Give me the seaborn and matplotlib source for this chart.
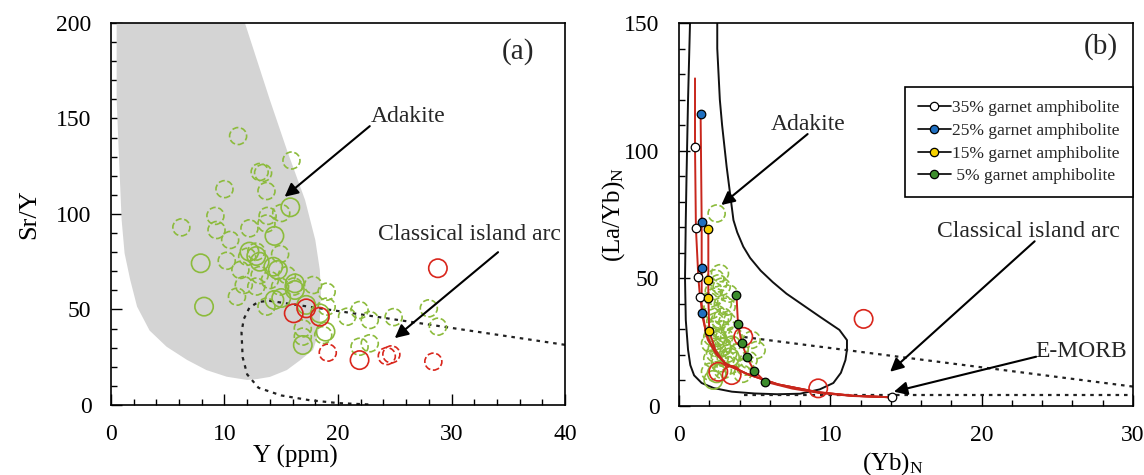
import numpy as np
import pandas as pd
import matplotlib
matplotlib.use("Agg")
import matplotlib.pyplot as plt
import seaborn as sns
from matplotlib.lines import Line2D
from matplotlib.ticker import MultipleLocator

sns.set_theme(style="white")
plt.rcParams['font.family'] = ['Liberation Serif', 'DejaVu Serif']
plt.rcParams['mathtext.fontset'] = 'custom'
plt.rcParams['mathtext.rm'] = 'Liberation Serif'
plt.rcParams['mathtext.it'] = 'Liberation Serif:italic'

# ---------------- data: panel (a) Sr/Y vs Y ----------------
adakite_a_x = [0.5, 11.8, 14.0, 15.5, 17.1, 18.0, 18.4, 18.5, 18.4, 18.2, 17.8, 16.7, 15.5,
               14.0, 12.9, 12.0, 10.2, 8.4, 6.7, 4.9, 3.4, 2.3, 1.7, 1.2, 0.94, 0.7, 0.5]
adakite_a_y = [200, 200, 159.7, 133.5, 107.3, 86.4, 70.7, 58, 44.5, 36, 28.8, 23.6, 18.3,
               14.7, 13.6, 13.1, 14.8, 18.3, 23.6, 30.5, 39, 51.5, 65.4, 79.4, 96.9, 130, 160]

arc_a_x = [40, 14.0, 13.0, 12.2, 11.7, 11.5, 11.6, 12.0, 13.0, 15.0, 17.5, 20.0, 23.0]
arc_a_y = [31.5, 54.5, 54.0, 51.0, 45.0, 38.0, 25.0, 16.0, 9.0, 5.0, 2.5, 1.0, 0.2]

a_green_dashed_x = [11.2, 15.9, 13.1, 13.4, 10.0, 13.7, 9.2, 13.8, 15.0, 6.2, 12.2, 9.3, 10.5,
                    13.7, 10.2, 11.4, 12.0, 12.8, 14.9, 11.7, 11.1, 12.8, 14.0, 13.1, 15.5,
                    17.8, 19.0, 13.7, 19.0, 16.9, 16.9, 18.7, 20.8, 21.9, 22.8, 24.9, 28.0,
                    28.8, 21.9, 22.8, 16.1, 14.9]
a_green_dashed_y = [140.8, 128, 122, 121.5, 113, 112, 99, 99, 100.5, 93, 92.5, 91.6, 86.4,
                    95, 75.5, 70.7, 77.6, 80.3, 79, 62.8, 56.7, 62, 65.4, 68, 68,
                    62.8, 59.3, 51.5, 51.5, 40.1, 35.8, 36.6, 46.2, 49.7, 44.5, 46, 50.6,
                    41, 30.5, 32.3, 62, 62]
a_green_solid_x = [7.9, 8.2, 14.4, 15.8, 12.2, 13.1, 14.3, 14.7, 16.2, 16.2, 14.4, 15.0, 17.2,
                   18.4, 18.9, 16.9, 12.8]
a_green_solid_y = [74.2, 51.5, 88.5, 103.5, 80.3, 75, 72.4, 70.7, 63.7, 60.2, 55, 56, 52.4,
                   48, 38.4, 31.4, 78]
a_red_solid_x = [28.8, 16.1, 17.2, 18.4, 21.9]
a_red_solid_y = [71.6, 48, 50.6, 46.2, 23.5]
a_red_dashed_x = [19.1, 24.3, 24.7, 28.4]
a_red_dashed_y = [27.4, 25.6, 26.5, 22.7]

# ---------------- data: panel (b) (La/Yb)N vs (Yb)N ----------------
adakite_b_x = [0.73, 0.6, 0.5, 0.45, 0.4, 0.45, 0.6, 0.75, 1.0, 1.5, 2.3, 3.5, 5.0, 6.5, 8.0,
               9.3, 10.2, 10.7, 11.0, 11.1, 11.1, 10.6, 9.3, 8.2, 7.1, 6.2, 5.4, 4.7, 4.25,
               3.85, 3.6, 3.15, 2.85, 2.7, 2.53, 2.53]
adakite_b_y = [150, 120, 90, 72.8, 50, 33.7, 22, 16, 12, 9, 7, 5.6, 4.9, 4.6, 4.8,
               6.5, 9, 13, 18, 22, 25.8, 29.8, 35, 39.5, 44, 48.5, 53, 58, 62.4,
               68, 72.8, 93.7, 110, 120, 140, 150]
arc_b_upper_x = [4.3, 30]
arc_b_upper_y = [27.0, 7.6]
arc_b_lower_x = [4.3, 30]
arc_b_lower_y = [4.4, 4.4]

model_labels = ["35% garnet amphibolite", "25% garnet amphibolite",
                "15% garnet amphibolite", " 5% garnet amphibolite"]
model_colors = ["white", "#1f6fc0", "#f5d000", "#3c8c2c"]
m35_x = [1.06, 1.12, 1.28, 1.39]
m35_y = [101.6, 69.6, 50.4, 42.6]
m25_x = [1.43, 1.50, 1.50, 1.50]
m25_y = [114.2, 72.2, 53.9, 36.3]
m15_x = [1.94, 1.94, 1.94, 2.0]
m15_y = [69.2, 49.4, 42.4, 29.4]
m05_x = [3.8, 3.9, 4.14, 4.5, 4.96, 5.7]
m05_y = [43.5, 32.1, 24.8, 19.0, 13.8, 9.5]
c35_x = [1.06, 1.06, 1.12, 1.28, 1.39, 1.8, 2.4, 3.1, 4.5, 6.5, 9.2, 11.5, 14.06]
c35_y = [128.3, 101.6, 69.6, 50.4, 42.6, 28, 21, 16.5, 12.5, 8.5, 5.4, 4.0, 3.4]
c25_x = [1.43, 1.50, 1.50, 1.50, 1.9, 2.5, 3.2, 4.6, 6.6, 9.2, 11.5, 14.06]
c25_y = [114.2, 72.2, 53.9, 36.3, 26, 20, 16, 12.3, 8.4, 5.3, 4.0, 3.4]
c15_x = [1.94, 1.94, 1.94, 2.0, 2.4, 3.0, 4.5, 6.5, 9.2, 11.5, 14.06]
c15_y = [69.2, 49.4, 42.4, 29.4, 22, 16.8, 12.6, 8.5, 5.4, 4.0, 3.4]
c05_x = [3.8, 3.9, 4.14, 4.5, 4.96, 5.7, 7.5, 9.3, 11.5, 14.06]
c05_y = [43.5, 32.1, 24.8, 19.0, 13.8, 9.5, 6.8, 5.1, 3.9, 3.4]
emorb_x = [14.06]
emorb_y = [3.4]

b_green_dashed_x = [2.49, 2.71, 2.82, 2.38, 3.15, 2.16, 2.71, 2.27, 3.37, 2.6, 2.05, 2.93, 2.38,
                    3.26, 5.13, 4.8, 4.36, 2.71, 2.05, 4.2, 3.0, 2.5, 3.5, 2.2, 3.1, 2.6, 3.3,
                    2.9, 2.4, 2.0, 2.3, 2.9, 2.5, 3.2, 2.8, 2.2, 3.6, 2.7, 3.9, 3.4, 2.9,
                    4.6, 2.4]
b_green_dashed_y = [75.4, 52, 46.7, 42.8, 38.9, 37.6, 33.7, 29.8, 29.8, 25.9, 24.5, 23.2, 20.6,
                    20.6, 21.9, 25.9, 15.4, 16.7, 13.4, 12.6, 27, 22.5, 24, 18.5, 18.5, 48, 44,
                    35, 33, 41, 45, 40, 36, 33, 30, 27, 27.5, 19, 21, 16, 14,
                    18, 50]
b_green_solid_x = [2.49, 2.27, 3.37, 2.8, 2.5]
b_green_solid_y = [12.8, 10.2, 19.0, 23.0, 27.0]
b_red_solid_x = [4.25, 2.6, 3.48, 9.2, 12.2]
b_red_solid_y = [27.1, 13.4, 12.1, 6.9, 34.1]

GREEN = "#8cbb3c"
RED = "#d9261c"
CURVE_RED = "#c8261c"
FS_TICK = 17
FS_LAB = 18
FS_TXT = 17

fig = plt.figure(figsize=(11.44, 4.75), dpi=100)
axA = fig.add_axes([0.0970, 0.1474, 0.3969, 0.8042])
axB = fig.add_axes([0.5935, 0.1453, 0.3969, 0.8063])


def circles(ax, xs, ys, color, dashed, size, lw=1.2):
    df = pd.DataFrame({"x": xs, "y": ys})
    sns.scatterplot(data=df, x="x", y="y", ax=ax, marker="o", s=size,
                    facecolor="none", edgecolor=color, linewidth=lw, legend=False, zorder=3)
    coll = ax.collections[-1]
    coll.set_facecolor("none")
    coll.set_edgecolor(color)
    coll.set_linewidth(lw)
    if dashed:
        coll.set_linestyle("--")


def style_axes(ax, xmax, ymax, xmaj, ymaj, xmin, ymin):
    ax.set_xlim(0, xmax)
    ax.set_ylim(0, ymax)
    ax.xaxis.set_major_locator(MultipleLocator(xmaj))
    ax.yaxis.set_major_locator(MultipleLocator(ymaj))
    ax.xaxis.set_minor_locator(MultipleLocator(xmin))
    ax.yaxis.set_minor_locator(MultipleLocator(ymin))
    ax.tick_params(which="both", direction="in", top=False, right=False,
                   bottom=True, left=True, color="black")
    ax.tick_params(which="major", length=8, width=1.0, labelsize=FS_TICK, pad=14,
                   labelcolor="black")
    ax.tick_params(which="minor", length=4, width=1.0)
    for sp in ax.spines.values():
        sp.set_color("black")
        sp.set_linewidth(1.2)
    ax.set_facecolor("white")
    ax.grid(False)


def arrow(ax, start, tip):
    ax.annotate("", xy=tip, xytext=start,
                arrowprops=dict(arrowstyle="-|>", color="black", lw=1.5,
                                mutation_scale=20, shrinkA=0, shrinkB=0), zorder=6)

# ---------------- panel (a) ----------------
axA.fill(adakite_a_x, adakite_a_y, color="#d4d4d4", lw=0, zorder=1)
sns.lineplot(x=arc_a_x, y=arc_a_y, sort=False, estimator=None, ax=axA, color="#222222",
             lw=1.6, linestyle=(0, (1.6, 2.2)), zorder=2)
circles(axA, a_green_dashed_x, a_green_dashed_y, GREEN, True, 150)
circles(axA, a_green_solid_x, a_green_solid_y, GREEN, False, 175)
circles(axA, a_red_dashed_x, a_red_dashed_y, RED, True, 150)
circles(axA, a_red_solid_x, a_red_solid_y, RED, False, 175)

axA.text(26.2, 150.8, "Adakite", fontsize=FS_TXT, ha="center", va="center", zorder=7)
arrow(axA, (22.8, 146), (15.3, 109))
axA.text(31.6, 89, "Classical island arc", fontsize=FS_TXT, ha="center", va="center", zorder=7)
arrow(axA, (34.1, 80), (25.0, 35))
axA.text(35.9, 184.8, "(a)", fontsize=21, ha="center", va="center")

style_axes(axA, 40, 200, 10, 50, 2, 10)
axA.set_xlabel("Y (ppm)", fontsize=FS_LAB, color="black")
axA.set_ylabel("Sr/Y", fontsize=FS_LAB + 1, color="black")
axA.xaxis.set_label_coords(0.407, -0.105)
axA.yaxis.set_label_coords(-0.155, 0.5)

# ---------------- panel (b) ----------------
sns.lineplot(x=adakite_b_x, y=adakite_b_y, sort=False, estimator=None, ax=axB, color="#111111",
             lw=1.4, zorder=2)
for xs, ys in [(arc_b_upper_x, arc_b_upper_y), (arc_b_lower_x, arc_b_lower_y)]:
    sns.lineplot(x=xs, y=ys, sort=False, estimator=None, ax=axB, color="#222222",
                 lw=1.6, linestyle=(0, (1.6, 2.2)), zorder=2)

circles(axB, b_green_dashed_x, b_green_dashed_y, GREEN, True, 150)
circles(axB, b_green_solid_x, b_green_solid_y, GREEN, False, 175)
circles(axB, b_red_solid_x, b_red_solid_y, RED, False, 175)

for cx, cy in [(c35_x, c35_y), (c25_x, c25_y), (c15_x, c15_y), (c05_x, c05_y)]:
    sns.lineplot(x=cx, y=cy, sort=False, estimator=None, ax=axB, color=CURVE_RED,
                 lw=1.4, zorder=4)
for (mx, my), col in zip([(m35_x, m35_y), (m25_x, m25_y), (m15_x, m15_y), (m05_x, m05_y)],
                         model_colors):
    sns.scatterplot(x=mx, y=my, ax=axB, marker="o", s=38, color=col, edgecolor="black",
                    linewidth=0.9, legend=False, zorder=5)
sns.scatterplot(x=emorb_x, y=emorb_y, ax=axB, marker="o", s=38, color="white",
                edgecolor="black", linewidth=0.9, legend=False, zorder=5)

axB.text(8.55, 110.3, "Adakite", fontsize=FS_TXT, ha="center", va="center", zorder=7)
arrow(axB, (8.5, 106.5), (2.8, 78.7))
axB.text(23.1, 68.3, "Classical island arc", fontsize=FS_TXT, ha="center", va="center", zorder=7)
arrow(axB, (23.5, 64.5), (13.95, 13.4))
axB.text(26.6, 21.3, "E-MORB", fontsize=FS_TXT, ha="center", va="center", zorder=7)
arrow(axB, (23.6, 19.3), (14.2, 5.6))
axB.text(27.9, 140.7, "(b)", fontsize=21, ha="center", va="center")

handles = [Line2D([], [], color="black", lw=1.2, marker="o", markersize=6,
                  markerfacecolor=c, markeredgecolor="black", markeredgewidth=0.9)
           for c in model_colors]
leg = axB.legend(handles, model_labels, loc="upper right", bbox_to_anchor=(1.0, 0.833),
                 borderaxespad=0, fontsize=12.5, frameon=True, fancybox=False,
                 edgecolor="black", framealpha=1, handlelength=1.9, handletextpad=0.1,
                 labelspacing=0.38, borderpad=0.75)
leg.get_frame().set_linewidth(1.2)
leg.set_zorder(8)

style_axes(axB, 30, 150, 10, 50, 2, 10)
axB.set_xlabel("(Yb)$_{\\mathrm{N}}$", fontsize=FS_LAB, color="black")
axB.set_ylabel("(La/Yb)$_{\\mathrm{N}}$", fontsize=FS_LAB, color="black")
axB.xaxis.set_label_coords(0.47, -0.115)
axB.yaxis.set_label_coords(-0.115, 0.5)

fig.savefig("out.png", dpi=100, facecolor="white")
